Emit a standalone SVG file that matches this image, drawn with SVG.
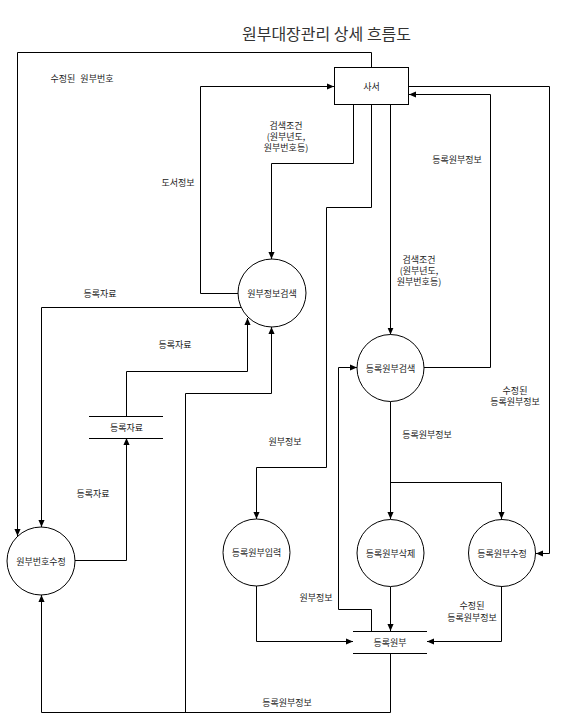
<svg xmlns="http://www.w3.org/2000/svg" width="566" height="723" viewBox="0 0 566 723">
<style>
text{font-family:"Noto Sans CJK KR","Noto Sans",sans-serif;font-size:9px;fill:#222;text-anchor:middle;dominant-baseline:central}
.title{font-size:16px;fill:#333}
.node{fill:#fff;stroke:#000;stroke-width:1}
.store{stroke:#000;stroke-width:1}
.edge{fill:none;stroke:#000;stroke-width:1;marker-end:url(#arr)}
</style>
<defs>
<marker id="arr" viewBox="0 0 8 8" refX="8" refY="4" markerWidth="7" markerHeight="7" markerUnits="userSpaceOnUse" orient="auto">
<path d="M0,0.5 L8,4 L0,7.5 Z" fill="#000"/>
</marker>
</defs>
<rect width="566" height="723" fill="#fff"/>
<text class="title" x="326.5" y="33">원부대장관리 상세 흐름도</text>
<g id="connectors">
<path class="edge" d="M371.5,67 V52.5 H17.5 V536"/>
<path class="edge" d="M239,293.5 H200.5 V86.5 H334"/>
<path class="edge" d="M353.5,104 V163.5 H271.5 V259"/>
<path class="edge" d="M371.5,104 V207.5 H326.5 V467.5 H256.5 V519"/>
<path class="edge" d="M390.5,104 V334.5"/>
<path class="edge" d="M424,367.5 H490.5 V94.5 H409"/>
<path class="edge" d="M409,86.5 H549.5 V553.5 H536"/>
<path class="edge" d="M241,307.5 H41.5 V527"/>
<path class="edge" d="M126.5,416 V371.5 H247.5 V318"/>
<path class="edge" d="M75,560.5 H126.5 V438"/>
<path class="edge" d="M390.5,653 V712.5 H41.5 V595"/>
<path class="edge" d="M185.5,712.5 V393.5 H271.5 V327"/>
<path class="edge" d="M256.5,586 V641.5 H353"/>
<path class="edge" d="M390.5,401.5 V519"/>
<path class="edge" d="M390.5,482.5 H501.5 V519"/>
<path class="edge" d="M371.5,631 V609.5 H338.5 V367.5 H357"/>
<path class="edge" d="M390.5,587 V631"/>
<path class="edge" d="M501.5,587 V641.5 H427"/>
</g>
<g id="labels">
<text x="82" y="78" word-spacing="3">수정된 원부번호</text>
<text x="178" y="182">도서정보</text>
<text x="286" y="125.5">검색조건</text>
<text x="286" y="136.5">(원부년도,</text>
<text x="286" y="147.5">원부번호등)</text>
<text x="457" y="159">등록원부정보</text>
<text x="419" y="259.5">검색조건</text>
<text x="419" y="270.5">(원부년도,</text>
<text x="419" y="281.5">원부번호등)</text>
<text x="100" y="293">등록자료</text>
<text x="175" y="344">등록자료</text>
<text x="93" y="493">등록자료</text>
<text x="285" y="441">원부정보</text>
<text x="427" y="434">등록원부정보</text>
<text x="515" y="390.5">수정된</text>
<text x="515" y="401.5">등록원부정보</text>
<text x="316" y="597">원부정보</text>
<text x="472" y="605">수정된</text>
<text x="472" y="617">등록원부정보</text>
<text x="287" y="702">등록원부정보</text>
</g>
<g id="n-saseo">
<rect class="node" x="334.5" y="67.5" width="74" height="37"/>
<text x="371.5" y="86">사서</text>
</g>
<g id="n-wonbu-search">
<circle class="node" cx="272" cy="293" r="34"/>
<text x="272" y="293">원부정보검색</text>
</g>
<g id="n-reg-search">
<circle class="node" cx="390.5" cy="368" r="33.5"/>
<text x="390.5" y="368">등록원부검색</text>
</g>
<g id="n-num-edit">
<circle class="node" cx="41" cy="561" r="34"/>
<text x="41" y="561">원부번호수정</text>
</g>
<g id="n-reg-input">
<circle class="node" cx="256.5" cy="552.5" r="33.5"/>
<text x="256.5" y="552.5">등록원부입력</text>
</g>
<g id="n-reg-delete">
<circle class="node" cx="390.5" cy="553" r="33.5"/>
<text x="390.5" y="553">등록원부삭제</text>
</g>
<g id="n-reg-edit">
<circle class="node" cx="502" cy="553" r="33.5"/>
<text x="502" y="553">등록원부수정</text>
</g>
<g id="s-reg-data">
<line class="store" x1="89" y1="416.5" x2="163" y2="416.5"/>
<line class="store" x1="89" y1="438.5" x2="163" y2="438.5"/>
<text x="126.5" y="427">등록자료</text>
</g>
<g id="s-reg-wonbu">
<line class="store" x1="353" y1="631.5" x2="427" y2="631.5"/>
<line class="store" x1="353" y1="653.5" x2="427" y2="653.5"/>
<text x="390" y="642">등록원부</text>
</g>
</svg>
